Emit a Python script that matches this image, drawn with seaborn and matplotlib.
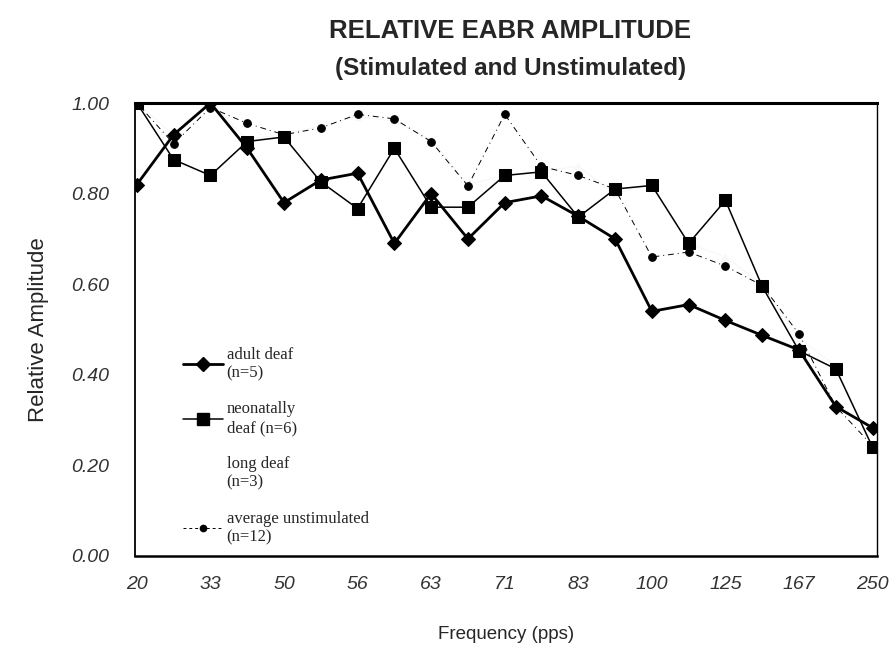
import matplotlib
matplotlib.use("Agg")
import matplotlib.pyplot as plt
import seaborn as sns
import pandas as pd
from matplotlib.lines import Line2D

# ---- data ----
freq_ticks = ["20", "", "33", "", "50", "", "56", "", "63", "", "71", "",
              "83", "", "100", "", "125", "", "167", "", "250"]
adult_deaf = [0.82, 0.93, 1.00, 0.90, 0.78, 0.83, 0.845, 0.69, 0.80, 0.70, 0.78,
              0.795, 0.75, 0.70, 0.54, 0.555, 0.52, 0.487, 0.455, 0.33, 0.283]
neonatally_deaf = [1.00, 0.875, 0.84, 0.915, 0.925, 0.826, 0.767, 0.90, 0.77, 0.77, 0.84,
                   0.848, 0.748, 0.81, 0.818, 0.69, 0.785, 0.595, 0.453, 0.413, 0.24]
long_deaf = [1.00, 0.93, 1.00, 0.92, 0.93, 0.95, 0.97, 0.96, 0.92, 0.82, 0.84,
             0.85, 0.86, 0.80, 0.82, 0.69, 0.66, 0.60, 0.48, 0.42, 0.24]
avg_unstimulated = [1.00, 0.91, 0.99, 0.955, 0.93, 0.945, 0.975, 0.965, 0.915, 0.817, 0.975,
                    0.86, 0.84, 0.81, 0.66, 0.671, 0.64, 0.597, 0.49, 0.33, 0.243]
series_labels = ["adult deaf\n(n=5)", "neonatally\ndeaf (n=6)", "long deaf\n(n=3)",
                 "average unstimulated\n(n=12)"]

sns.set_style("white")
plt.rcParams["font.family"] = ["Liberation Sans", "DejaVu Sans"]

idx = list(range(len(freq_ticks)))
df = pd.DataFrame({"i": idx, "adult": adult_deaf, "neo": neonatally_deaf,
                   "long": long_deaf, "unstim": avg_unstimulated})

fig = plt.figure(figsize=(8.94, 6.52), dpi=100)
ax = fig.add_axes([135/894, 1-556/652, (877-135)/894, (556-103)/652])

sns.lineplot(data=df, x="i", y="long", ax=ax, color="#f7f7f7", lw=0.8,
             marker="^", markersize=5, markeredgecolor="#f7f7f7", legend=False)
sns.lineplot(data=df, x="i", y="unstim", ax=ax, color="black", lw=0.7,
             linestyle=(0, (6, 4, 1, 4)), marker="o", markersize=5.5,
             markeredgecolor="black", legend=False)
sns.lineplot(data=df, x="i", y="neo", ax=ax, color="black", lw=1.1,
             marker="s", markersize=9, markeredgecolor="black", legend=False)
sns.lineplot(data=df, x="i", y="adult", ax=ax, color="black", lw=2.0,
             marker="D", markersize=7.5, markeredgecolor="black", legend=False)

ax.set_xlim(-0.05, 20.12)
ax.set_ylim(0, 1.0)
ax.set_xticks(idx)
ax.set_xticklabels(freq_ticks)
ax.set_yticks([0, 0.2, 0.4, 0.6, 0.8, 1.0])
ax.set_yticklabels(["0.00", "0.20", "0.40", "0.60", "0.80", "1.00"])
ax.tick_params(axis="both", direction="inout", length=9, width=1.0, color="black",
               labelsize=14, labelcolor="#333333")
ax.tick_params(axis="y", pad=14)
ax.tick_params(axis="x", pad=10)
for lab in ax.get_xticklabels() + ax.get_yticklabels():
    lab.set_fontstyle("italic")

for side, lw in {"top": 2.2, "right": 1.0, "left": 1.3, "bottom": 1.8}.items():
    ax.spines[side].set_visible(True)
    ax.spines[side].set_color("black")
    ax.spines[side].set_linewidth(lw)

ax.set_xlabel("Frequency (pps)", fontsize=13.5, labelpad=24)
ax.set_ylabel("Relative Amplitude", fontsize=16, labelpad=16)

fig.text(0.571, 1-31/652, "RELATIVE EABR AMPLITUDE", ha="center", va="center",
         fontsize=18.5, fontweight="bold")
fig.text(0.571, 1-68/652, "(Stimulated and Unstimulated)", ha="center", va="center",
         fontsize=17.5, fontweight="bold")

handles = [
    Line2D([], [], color="black", lw=2.0, marker="D", markersize=7.5),
    Line2D([], [], color="black", lw=1.1, marker="s", markersize=9),
    Line2D([], [], color="white", lw=0),
    Line2D([], [], color="black", lw=0.7, linestyle=(0, (3, 3)), marker="o", markersize=4.5),
]
leg = ax.legend(handles, series_labels, loc="upper left",
                bbox_to_anchor=(0.045, 0.495), frameon=False,
                prop={"family": "Liberation Serif", "size": 12},
                handlelength=2.4, handletextpad=0.2, labelspacing=1.22)

fig.savefig("out.png", dpi=100)
